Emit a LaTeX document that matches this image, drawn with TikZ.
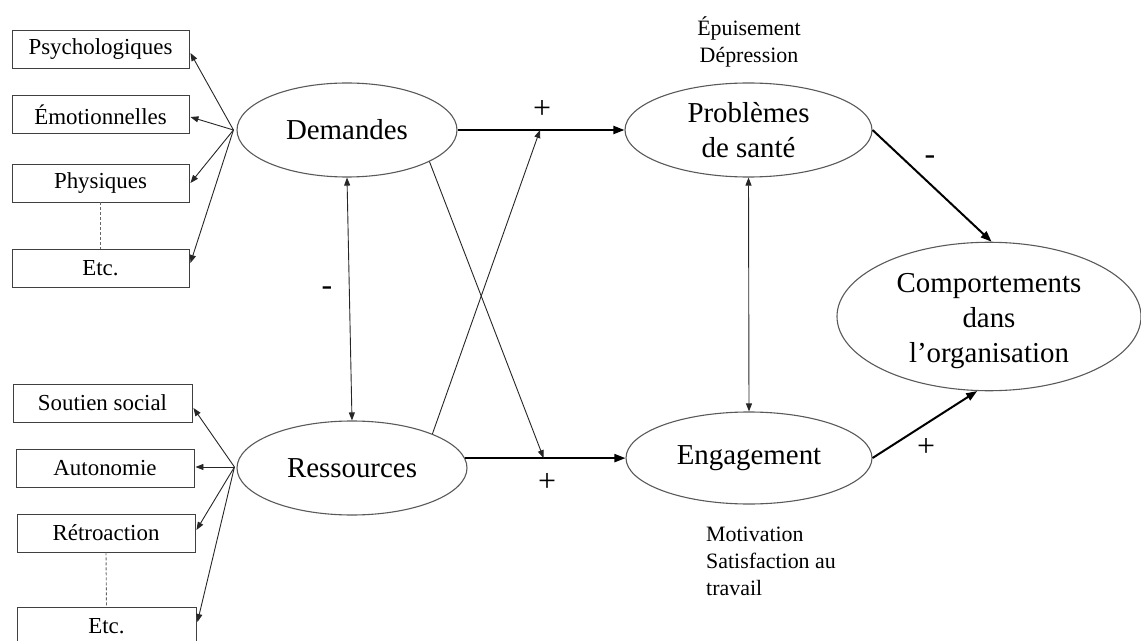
\documentclass[tikz,border=0pt]{standalone}
\usepackage{fontspec}
\setmainfont{Liberation Serif}
\usetikzlibrary{shapes.geometric,arrows.meta,calc}
\begin{document}
\begin{tikzpicture}[x=1bp,y=-1bp,
  oval/.style={draw=black!65,line width=1.1bp,ellipse,inner sep=0pt,align=center,font=\fontsize{29}{35.5}\selectfont},
  itembox/.style={draw=black!75,line width=0.9bp,rectangle,inner sep=0pt,minimum height=38bp,font=\fontsize{23}{27}\selectfont},
  thinarrow/.style={-{Triangle[length=8bp,width=6bp]},line width=0.9bp,black!85},
  biarrow/.style={{Triangle[length=8bp,width=6bp]}-{Triangle[length=8bp,width=6bp]},line width=0.9bp,black!85},
  thickarrow/.style={-{Triangle[length=11bp,width=8bp]},line width=2bp},
  sign/.style={font=\fontsize{32}{32}\selectfont,inner sep=0pt},
  note/.style={font=\fontsize{22}{27}\selectfont,inner sep=0pt},
  dots/.style={dash pattern=on 3bp off 2bp,line width=0.9bp,black!60}]
\useasboundingbox (0,0) rectangle (1141,641);
% ellipses
\node[oval,minimum width=220bp,minimum height=94bp] (dem) at (347,130) {Demandes};
\node[oval,minimum width=230bp,minimum height=94bp] (res) at (352,468) {Ressources};
\node[oval,minimum width=247bp,minimum height=94bp] (pb) at (748.5,130) {Problèmes\\de santé};
\node[oval,minimum width=246bp,minimum height=92bp] (eng) at (749,458) {Engagement};
\node[oval,minimum width=304bp,minimum height=141bp] (comp) at (989,316.5) {\rule{0pt}{28bp}Comportements\\dans\\l’organisation};
% boxes
\node[itembox,minimum width=177bp] (psy) at (100.5,49) {Psychologiques};
\node[itembox,minimum width=177bp] (emo) at (100.5,114.5) {Émotionnelles};
\node[itembox,minimum width=177bp] (phy) at (100.5,183) {Physiques};
\node[itembox,minimum width=177bp] (etc1) at (100.5,268) {Etc.};
\node[itembox,minimum width=179bp] (sou) at (102.5,403) {Soutien social};
\node[itembox,minimum width=178bp] (aut) at (105,468) {Autonomie};
\node[itembox,minimum width=178bp] (ret) at (106,533) {Rétroaction};
\node[itembox,minimum width=179bp] (etc2) at (106.5,626) {Etc.};
% dashed links
\draw[dots] (phy.south) -- (etc1.north);
\draw[dots] (ret.south) -- (etc2.north);
% fan arrows
\coordinate (ds) at ($(dem.west)+(-3,0)$);
\foreach \b/\d in {psy/4,emo/2.5,phy/0,etc1/-5}
  \draw[thinarrow] (ds) -- ($(\b.east)+(1,\d)$);
\coordinate (rs) at ($(res.west)+(-2,-1)$);
\foreach \b/\d in {sou/5,aut/-1,ret/-3,etc2/-4}
  \draw[thinarrow] (rs) -- ($(\b.east)+(1,\d)$);
% main arrows
\draw[thickarrow] (dem.east) -- (pb.west);
\coordinate (rE) at (res.5.6);
\draw[thickarrow] (rE) -- (rE -| eng.west);
\coordinate (m1) at ($(dem.east)!0.494!(pb.west)$);
\coordinate (m2) at ($(rE)!0.49!(rE -| eng.west)$);
\draw[thinarrow] (dem.-21) -- (m2);
\draw[thinarrow] (res.23) -- (m1);
\draw[biarrow] (dem.south) -- (res.north);
\draw[biarrow] (pb.south) -- (eng.north);
\draw[thickarrow] (pb.east) -- (comp.88);
\draw[thickarrow] (eng.east) -- (comp.-99);
% signs
\node[sign] (p1) at (542,109) {+};
\node[sign] (p2) at (547,482) {+};
\node[sign] (n1) at (327,291) {-};
\node[sign] (n2) at (930,160) {-};
\node[sign] (p3) at (926,447) {+};
% notes
\node[note,align=center] (nep) at (749,42) {Épuisement\\Dépression};
\node[note,align=left,anchor=north west] (nmo) at (706,527) {Motivation\\Satisfaction au\\travail};
\end{tikzpicture}
\end{document}
